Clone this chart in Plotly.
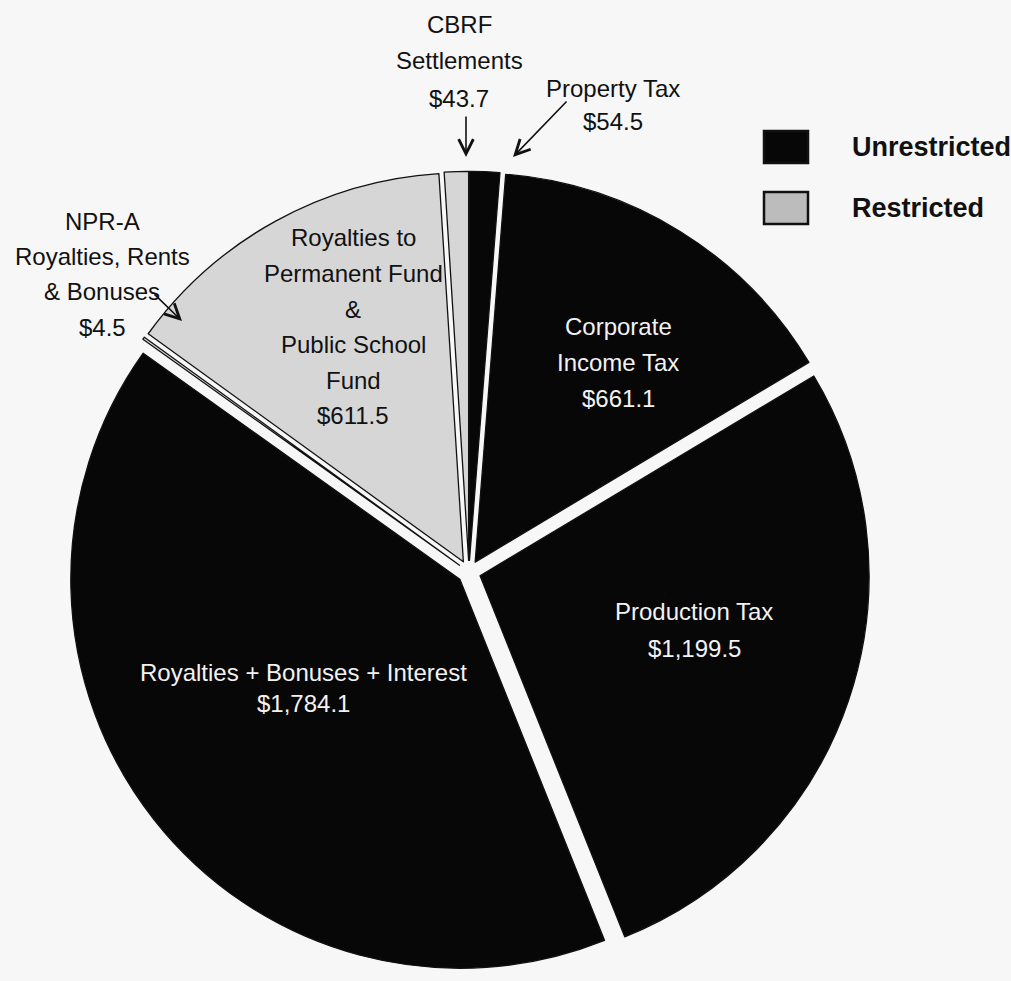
import plotly.graph_objects as go

# ---- data ----
labels = ["Property Tax", "Corporate Income Tax", "Production Tax",
          "Royalties + Bonuses + Interest", "NPR-A Royalties, Rents & Bonuses",
          "Royalties to Permanent Fund & Public School Fund", "CBRF Settlements"]
values = [54.5, 661.1, 1199.5, 1784.1, 4.5, 611.5, 43.7]
groups = ["Unrestricted", "Unrestricted", "Unrestricted", "Unrestricted",
          "Restricted", "Restricted", "Restricted"]
label_texts = ["Property Tax<br>$54.5",
               "Corporate<br>Income Tax<br>$661.1",
               "Production Tax<br>$1,199.5",
               "Royalties + Bonuses + Interest<br>$1,784.1",
               "NPR-A<br>Royalties, Rents<br>& Bonuses<br>$4.5",
               "Royalties to<br>Permanent Fund<br>&<br>Public School<br>Fund<br>$611.5",
               "CBRF<br>Settlements<br>$43.7"]
legend_names = ["Unrestricted", "Restricted"]

# ---- styling ----
W, H = 1011, 981
FONT = "Liberation Sans, Arial, sans-serif"
group_color = {"Unrestricted": "#070707", "Restricted": "#d6d6d6"}
text_color = {"Unrestricted": "#f2f2f2", "Restricted": "#111111"}
BG = "#f7f7f7"

def px(x):
    return x / W

def py(y):
    return 1 - y / H

cx, cy, r, pull = 469, 572, 389, 0.03
half = r * (1 + pull)

fig = go.Figure(go.Pie(
    labels=labels,
    values=values,
    sort=False,
    direction="clockwise",
    rotation=0,
    pull=[pull] * len(values),
    textinfo="none",
    hoverinfo="label+value",
    showlegend=False,
    marker=dict(colors=[group_color[g] for g in groups],
                line=dict(color="#111111", width=1.3)),
    domain=dict(x=[px(cx - half), px(cx + half)],
                y=[py(cy + half), py(cy - half)]),
))

# label layout: centre x, first-line centre y, line spacing (pixels)
label_pos = [(613, 88, 34), (618, 326, 36), (694, 611, 37), (303, 672, 31),
             (102, 221, 35.5), (353, 238, 35.5), (459, 24, 37)]
inside = [False, True, True, True, False, True, False]

annotations = []
for txt, g, (x, y0, dy), ins in zip(label_texts, groups, label_pos, inside):
    col = text_color[g] if ins else "#111111"
    for i, line in enumerate(txt.split("<br>")):
        annotations.append(dict(
            x=px(x), y=py(y0 + i * dy), xref="paper", yref="paper",
            text=line, showarrow=False, xanchor="center", yanchor="middle",
            font=dict(family=FONT, size=24, color=col),
        ))

# arrows for small slices: (tip x, tip y, tail dx, tail dy)
arrows = [(466, 157, 0, -42), (513, 157, 55, -57), (182, 321, -29, -28)]
for tx, ty, dx, dy in arrows:
    annotations.append(dict(
        x=px(tx), y=py(ty), xref="paper", yref="paper", text="",
        showarrow=True, ax=dx, ay=dy, arrowhead=5, arrowsize=1.8,
        arrowwidth=1.6, arrowcolor="#111111",
    ))

# legend
legend_rows = [147, 208]
shapes = []
for name, yy in zip(legend_names, legend_rows):
    shapes.append(dict(
        type="rect", xref="paper", yref="paper",
        x0=px(764), x1=px(808), y0=py(yy - 16), y1=py(yy + 16),
        fillcolor=group_color[name] if name == "Unrestricted" else "#bcbcbc",
        line=dict(color="#111111", width=2.5),
    ))
    annotations.append(dict(
        x=px(850), y=py(yy), xref="paper", yref="paper", text="<b>%s</b>" % name,
        showarrow=False, xanchor="left", yanchor="middle",
        font=dict(family=FONT, size=27, color="#111111"),
    ))

fig.update_layout(
    width=W, height=H,
    margin=dict(l=0, r=0, t=0, b=0),
    paper_bgcolor=BG, plot_bgcolor=BG,
    annotations=annotations, shapes=shapes,
    showlegend=False,
)

fig.write_html("out.html")
